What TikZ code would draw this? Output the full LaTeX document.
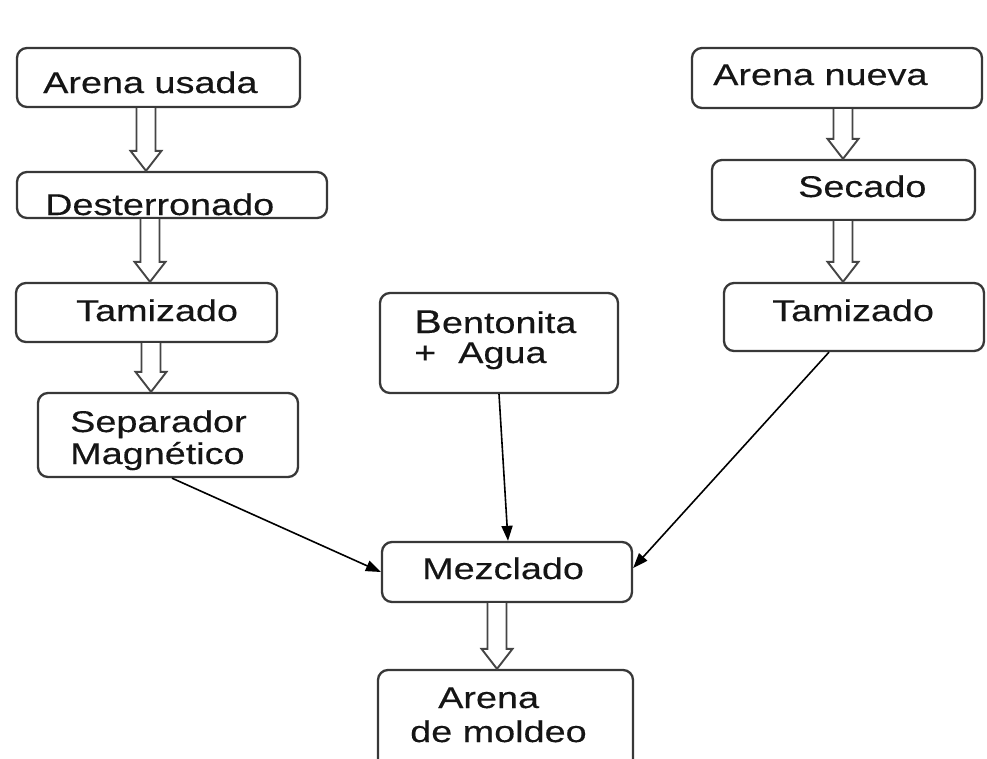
\documentclass[tikz,border=0pt]{standalone}
\usepackage{fontspec}
\setmainfont{Liberation Sans}[FakeStretch=1.26,FakeBold=0.3]
\usetikzlibrary{calc,arrows.meta}
\definecolor{boxgray}{HTML}{383838}
\definecolor{txtcol}{HTML}{151515}
\definecolor{arrgray}{HTML}{454545}
\tikzset{
  box/.style={draw=boxgray, line width=2.3pt, rounded corners=10pt, fill=white,
    minimum width=#1, inner sep=0pt},
  txt/.style={anchor=base west, inner sep=0pt, text=txtcol,
    font=\fontsize{30}{32}\selectfont},
  harr/.style={draw=arrgray, line width=1.9pt, line join=miter, fill=white},
  thin/.style={draw=black, line width=1.6pt, -{Triangle[length=15pt,width=11pt]}}
}
\newcommand\harrow[3]{%
  \path (#1,0 |- #2.south) coordinate (hs) (#1,0 |- #3.north) coordinate (he);
  \draw[harr] ($(hs)+(-9.5,0)$) -- ($(he)+(-9.5,-20)$) -- ($(he)+(-15.5,-20)$)
    -- (he) -- ($(he)+(15.5,-20)$) -- ($(he)+(9.5,-20)$) -- ($(hs)+(9.5,0)$);
}
\begin{document}
\begin{tikzpicture}[x=1pt,y=-1pt]
\useasboundingbox (0,0) rectangle (987,758);
\clip (0,0) rectangle (987,758);
\fill[white] (0,0) rectangle (987,758);
% boxes
\node[box=283pt, minimum height=59pt] (au) at (158.5,77.5) {};
\node[box=310pt, minimum height=46pt] (de) at (172,195) {};
\node[box=261pt, minimum height=59pt] (tl) at (146.5,312.5) {};
\node[box=260pt, minimum height=84pt] (sm) at (168,435) {};
\node[box=238pt, minimum height=100pt] (bg) at (499,343) {};
\node[box=290pt, minimum height=60pt] (an) at (837,78) {};
\node[box=263pt, minimum height=60pt] (se) at (843.5,190) {};
\node[box=260pt, minimum height=68pt] (tr) at (854,317) {};
\node[box=250pt, minimum height=60pt] (mz) at (507,572) {};
\node[box=255pt, minimum height=130pt] (am) at (505.5,735) {};
% texts
\node[txt] (tau) at (43,93) {Arena usada};
\node[txt] (tde) at (45,215) {Desterronado};
\node[txt] (ttl) at (76,321) {Tamizado};
\node[txt] (tsm1) at (70,432) {Separador};
\node[txt] (tsm2) at (70,464) {Magnético};
\node[txt] (tbg1) at (414,333) {{\fontsize{33}{33}\selectfont B}entonita};
\node[txt] (tbg2) at (414,363) {+\hspace{22pt}Agua};
\node[txt] (tan) at (713,85) {Arena nueva};
\node[txt] (tse) at (798,197) {Secado};
\node[txt] (ttr) at (772,321) {Tamizado};
\node[txt] (tmz) at (422,579) {Mezclado};
\node[txt] (tam1) at (438,708) {Arena};
\node[txt] (tam2) at (410,742) {de moldeo};
% hollow arrows
\harrow{146}{au}{de}
\harrow{150}{de}{tl}
\harrow{151}{tl}{sm}
\harrow{843}{an}{se}
\harrow{843}{se}{tr}
\harrow{497}{mz}{am}
% thin arrows
\draw[thin] ($(sm.south)+(4,0)$) -- (mz.west);
\draw[thin] (bg.south) -- ($(mz.north)+(1,0)$);
\draw[thin] ($(tr.south)+(-25,0)$) -- ($(mz.east)+(0,-4)$);
\end{tikzpicture}
\end{document}
